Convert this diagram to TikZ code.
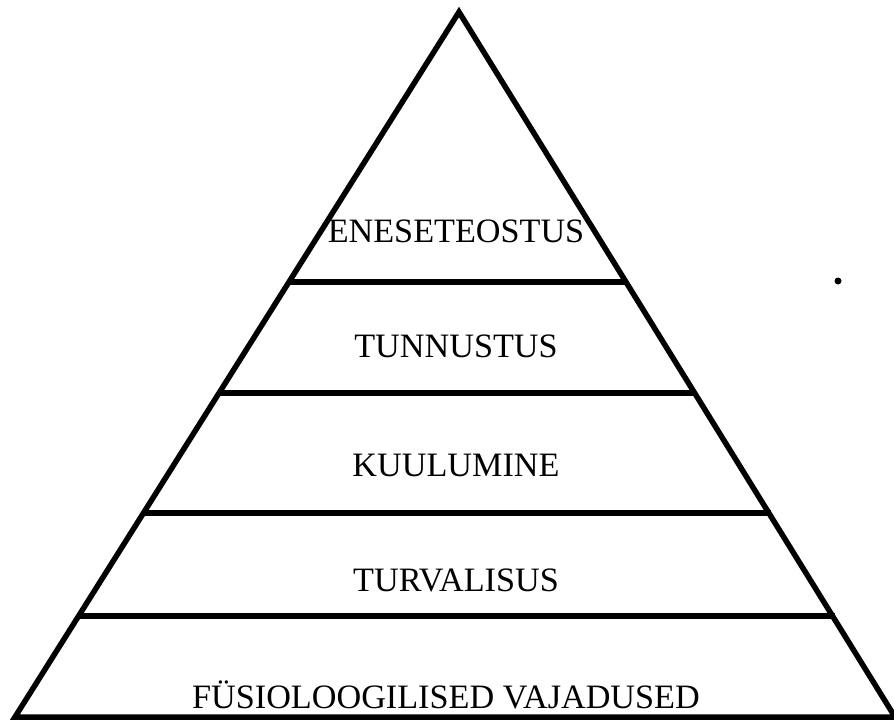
\documentclass[tikz,border=0pt]{standalone}
\usepackage{fontspec}
\setmainfont{Liberation Serif}
\begin{document}
\begin{tikzpicture}[x=1pt,y=-1pt,
  edge/.style={line width=5.5pt,line join=miter,black},
  tier/.style={line width=6pt,black},
  lbl/.style={anchor=base,inner sep=0pt,font=\fontsize{34.2}{37}\selectfont}]
\useasboundingbox (0,0) rectangle (894,720);
\coordinate (apex) at (459,12);
\coordinate (bl) at (15,717);
\coordinate (br) at (895,717);
\draw[edge] (bl) -- (apex) -- (br) -- cycle;
\coordinate (l1) at (289,282); \coordinate (r1) at (627,282);
\coordinate (l2) at (220,393); \coordinate (r2) at (694,393);
\coordinate (l3) at (145,513); \coordinate (r3) at (771,513);
\coordinate (l4) at (80,616);  \coordinate (r4) at (835,616);
\draw[tier] (l1) -- (r1);
\draw[tier] (l2) -- (r2);
\draw[tier] (l3) -- (r3);
\draw[tier] (l4) -- (r4);
\node[lbl] (t1) at (456,242) {ENESETEOSTUS};
\node[lbl] (t2) at (456,357) {TUNNUSTUS};
\node[lbl] (t3) at (456,476) {KUULUMINE};
\node[lbl] (t4) at (456,591) {TURVALISUS};
\node[lbl] (t5) at (446,708) {FÜSIOLOOGILISED VAJADUSED};
\fill (838,281) circle (3.5pt);
\end{tikzpicture}
\end{document}
